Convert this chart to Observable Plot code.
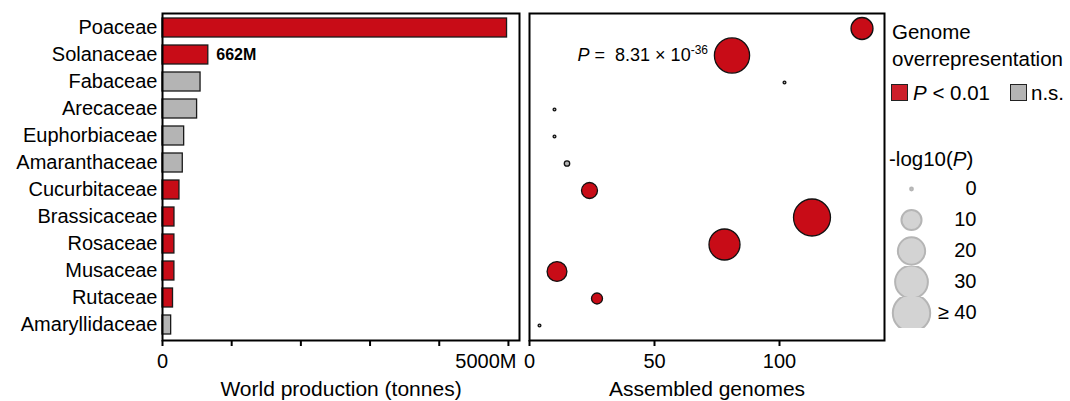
<!DOCTYPE html>
<html>
<head>
<meta charset="utf-8">
<script src="https://cdn.jsdelivr.net/npm/d3@7"></script>
<script src="https://cdn.jsdelivr.net/npm/@observablehq/plot@0.6"></script>
<style>
  html, body { margin: 0; padding: 0; background: #fff; }
  #wrap { position: relative; width: 1070px; height: 401px; overflow: hidden; font-family: "Liberation Sans", Arial, sans-serif; color: #000; }
  #wrap > * { position: absolute; }
  .lt { position: absolute; font-size: 20.5px; line-height: 24px; white-space: nowrap; }
  .sq { position: absolute; width: 15px; height: 15px; border: 1.3px solid #222; }
</style>
</head>
<body>
<div id="wrap"></div>
<script>
// ---- data ----
const families = ["Poaceae", "Solanaceae", "Fabaceae", "Arecaceae", "Euphorbiaceae", "Amaranthaceae",
  "Cucurbitaceae", "Brassicaceae", "Rosaceae", "Musaceae", "Rutaceae", "Amaryllidaceae"];
const productionM = [4980, 662, 550, 500, 313, 293, 245, 173, 172, 172, 152, 125]; // million tonnes
const genomes = [133, 81, 102, 10, 10, 15, 24, 113, 78, 11, 27, 4];
const negLog10P = [12.3, 35.08, 0, 0, 0, 0.23, 5.8, 39, 26.6, 9.7, 2.25, 0];
const significant = [true, true, false, false, false, false, true, true, true, true, true, false];
const prodTicks = [0, 1000, 2000, 3000, 4000, 5000];
const prodTickLabels = {0: "0", 5000: "5000M"};
const genomeTicks = [0, 50, 100];
const sizeLegend = [0, 10, 20, 30, 40];
const annotation = {family: "Solanaceae", text: "8.31 × 10", exp: "-36"};

const RED = "#c80c17", GRAY = "#b4b4b4";
const rows = families.map((f, i) => ({
  family: f, production: productionM[i], genomes: genomes[i], p: negLog10P[i],
  status: significant[i] ? "sig" : "ns"
}));
const FONT = "'Liberation Sans', Arial, sans-serif";
const baseStyle = {fontFamily: FONT, fontSize: "20px", color: "black", background: "transparent", overflow: "visible"};
const yScale = {domain: families, paddingInner: 0.28, paddingOuter: 0.17};
const colorScale = {domain: ["sig", "ns"], range: [RED, GRAY]};
const rScale = {type: "sqrt", domain: [0, 40], range: [1.4, 18.7], clamp: true};

const wrap = document.getElementById("wrap");

// ---- left: world production ----
const left = Plot.plot({
  width: 522, height: 401,
  marginLeft: 162, marginRight: 3, marginTop: 13, marginBottom: 61,
  style: baseStyle,
  x: {domain: [0, 5160]},
  y: yScale,
  color: colorScale,
  marks: [
    Plot.barX(rows, {x: "production", y: "family", fill: "status", stroke: "#1a1a1a", strokeWidth: 1.3}),
    Plot.text(rows.filter(d => d.family === "Solanaceae"), {
      x: "production", y: "family", text: d => `${d.production}M`,
      dx: 8, textAnchor: "start", fontWeight: "bold", fontSize: 16
    }),
    Plot.frame({stroke: "black", strokeWidth: 2}),
    Plot.axisY({tickSize: 0, tickPadding: 5, label: null, fontSize: 20}),
    Plot.axisX({
      ticks: prodTicks, tickSize: 6, strokeWidth: 2, tickPadding: 7, fontSize: 20,
      tickFormat: d => d === 0 ? prodTickLabels[0] : "",
      label: "World production (tonnes)", labelAnchor: "center", labelOffset: 55, labelArrow: "none"
    }),
    Plot.axisX({
      ticks: [5000], tickSize: 0, tickPadding: 13, fontSize: 20, textAnchor: "end", dx: 8,
      tickFormat: d => prodTickLabels[d], label: null
    })
  ]
});
left.style.left = "0px"; left.style.top = "0px";
wrap.appendChild(left);
left.querySelectorAll("g[aria-label='x-axis label']").forEach(e => e.setAttribute("font-size", 21));

// ---- right: assembled genomes ----
const right = Plot.plot({
  width: 362, height: 401,
  marginLeft: 4, marginRight: 3, marginTop: 13, marginBottom: 61,
  style: baseStyle,
  x: {domain: [0, 142]},
  y: {...yScale, axis: null},
  color: colorScale,
  r: rScale,
  marks: [
    Plot.frame({stroke: "black", strokeWidth: 2}),
    Plot.dot(rows, {x: "genomes", y: "family", r: "p", fill: "status", stroke: "#111", strokeWidth: 1.3}),
    Plot.text(rows.filter(d => d.family === annotation.family), {
      x: "genomes", y: "family", text: () => "P", textAnchor: "end", dx: -24, fontSize: 18,
      className: "pannot"
    }),
    Plot.axisX({
      ticks: genomeTicks, tickSize: 6, strokeWidth: 2, tickPadding: 7, fontSize: 20,
      label: "Assembled genomes", labelAnchor: "center", labelOffset: 55, labelArrow: "none"
    })
  ]
});
right.style.left = "525px"; right.style.top = "0px";
wrap.appendChild(right);
right.querySelectorAll("g[aria-label='x-axis label']").forEach(e => e.setAttribute("font-size", 21));
// rich text for the annotation (italic P, superscript exponent)
d3.select(right).selectAll(".pannot text").each(function () {
  const t = d3.select(this).style("white-space", "pre").text("");
  t.append("tspan").attr("font-style", "italic").text("P");
  t.append("tspan").text(" =  " + annotation.text);
  t.append("tspan").attr("font-size", 12).attr("dy", "-0.6em").text(annotation.exp);
});

// ---- legend: colour ----
function addText(html, x, cy, extra) {
  const d = document.createElement("div");
  d.className = "lt";
  d.innerHTML = html;
  d.style.left = x + "px"; d.style.top = (cy - 12) + "px";
  if (extra) Object.assign(d.style, extra);
  wrap.appendChild(d);
}
function addSquare(color, x, y) {
  const s = document.createElement("div");
  s.className = "sq";
  s.style.background = color; s.style.left = x + "px"; s.style.top = y + "px";
  wrap.appendChild(s);
}
addText("Genome", 892, 32);
addText("overrepresentation", 892, 59);
addSquare("#cc1f2a", 891, 84);
addText("<i>P</i> &lt; 0.01", 913, 93);
addSquare(GRAY, 1009.5, 84);
addText("n.s.", 1031, 93);
addText("-log10(<i>P</i>)", 889, 159);

// ---- legend: size ----
const sizeLg = Plot.plot({
  width: 100, height: 158, margin: 0,
  style: baseStyle,
  r: rScale,
  fy: {domain: sizeLegend, padding: 0, axis: null},
  marks: [
    Plot.dot(sizeLegend, {fy: d => d, r: d => d, frameAnchor: "left", dx: 31, fill: "#d3d3d3", stroke: "#b5b5b5", strokeWidth: 2, clip: true}),
    Plot.text(sizeLegend, {fy: d => d, text: d => d === 40 ? "≥ 40" : String(d), frameAnchor: "left", dx: 96, textAnchor: "end", fontSize: 20})
  ]
});
sizeLg.style.left = "880px"; sizeLg.style.top = "171px";
wrap.appendChild(sizeLg);
</script>
</body>
</html>
